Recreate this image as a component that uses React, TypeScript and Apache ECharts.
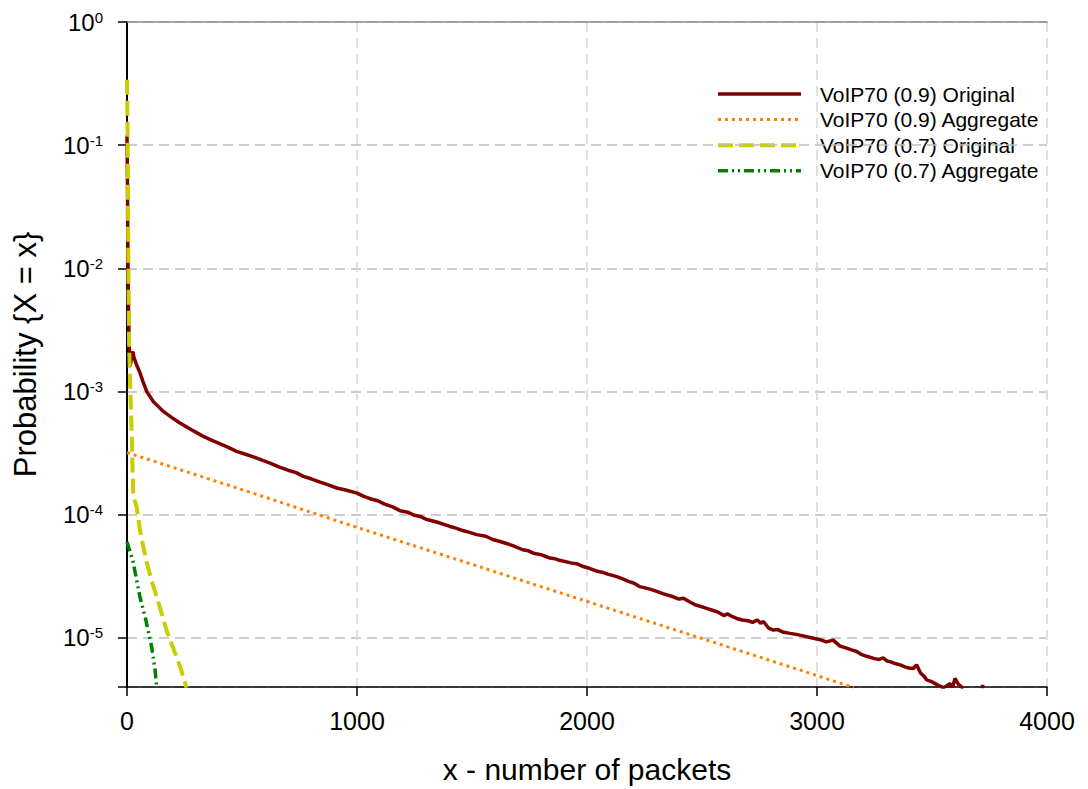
import React, { useEffect, useRef } from "react";
import * as echarts from "echarts";

const FONT = '"Liberation Sans", Arial, sans-serif';

const xTicks = [0, 1000, 2000, 3000, 4000];
const seriesNames = [
  "VoIP70 (0.9) Original",
  "VoIP70 (0.9) Aggregate",
  "VoIP70 (0.7) Original",
  "VoIP70 (0.7) Aggregate",
];

// [packets, probability]
const original09: [number, number | null][] = [
  [0, 0.12], [2, 0.05], [4, 0.012], [7, 4e-3], [10, 2.2e-3], [13, 1.6e-3],
  [17, 1.75e-3], [22, 2.05e-3], [26, 2.1e-3], [30, 1.9e-3], [40, 1.68e-3],
  [56, 1.43e-3], [70, 1.2e-3], [86, 1.0e-3], [114, 8.3e-4], [158, 6.9e-4],
  [195, 6.15e-4], [230, 5.56e-4], [280, 4.9e-4], [332, 4.33e-4], [365, 4.05e-4],
  [400, 3.8e-4], [440, 3.52e-4], [477, 3.27e-4], [515, 3.1e-4], [550, 2.95e-4],
  [590, 2.76e-4], [622, 2.63e-4], [660, 2.45e-4], [700, 2.3e-4], [735, 2.2e-4],
  [767, 2.05e-4], [800, 1.96e-4], [840, 1.84e-4], [875, 1.75e-4], [912, 1.65e-4],
  [955, 1.58e-4], [1000, 1.5e-4], [1030, 1.41e-4], [1057, 1.35e-4], [1090, 1.3e-4],
  [1120, 1.22e-4], [1155, 1.16e-4], [1187, 1.08e-4], [1220, 1.05e-4], [1250, 9.9e-5],
  [1275, 9.7e-5], [1300, 9.2e-5], [1350, 8.7e-5], [1404, 8.04e-5], [1430, 7.8e-5],
  [1460, 7.45e-5], [1490, 7.2e-5], [1520, 6.9e-5], [1560, 6.7e-5], [1590, 6.3e-5],
  [1622, 6.07e-5], [1650, 5.85e-5], [1680, 5.6e-5], [1720, 5.2e-5], [1745, 5.1e-5],
  [1767, 4.88e-5], [1800, 4.75e-5], [1839, 4.45e-5], [1860, 4.4e-5], [1880, 4.27e-5],
  [1930, 4.07e-5], [1960, 3.98e-5], [1984, 3.8e-5], [2010, 3.68e-5], [2040, 3.5e-5],
  [2065, 3.42e-5], [2090, 3.3e-5], [2129, 3.15e-5], [2155, 3.02e-5], [2180, 2.88e-5],
  [2205, 2.78e-5], [2230, 2.61e-5], [2274, 2.49e-5], [2300, 2.4e-5], [2330, 2.29e-5],
  [2375, 2.16e-5], [2400, 2.07e-5], [2420, 2.1e-5], [2445, 1.97e-5], [2470, 1.86e-5],
  [2495, 1.8e-5], [2520, 1.74e-5], [2545, 1.68e-5], [2570, 1.62e-5], [2595, 1.52e-5],
  [2610, 1.57e-5], [2630, 1.5e-5], [2651, 1.44e-5], [2675, 1.4e-5], [2700, 1.38e-5],
  [2720, 1.34e-5], [2740, 1.4e-5], [2755, 1.32e-5], [2767, 1.36e-5], [2790, 1.2e-5],
  [2810, 1.16e-5], [2830, 1.17e-5], [2850, 1.12e-5], [2883, 1.09e-5], [2910, 1.07e-5],
  [2940, 1.04e-5], [2970, 1.01e-5], [2999, 9.8e-6], [3020, 9.6e-6], [3040, 9.3e-6],
  [3070, 9.6e-6], [3100, 8.6e-6], [3125, 8.3e-6], [3150, 8.0e-6], [3170, 7.8e-6],
  [3190, 7.4e-6], [3216, 7.1e-6], [3250, 6.8e-6], [3270, 6.7e-6], [3288, 6.9e-6],
  [3305, 6.5e-6], [3320, 6.4e-6], [3340, 6.2e-6], [3361, 6.05e-6], [3385, 5.8e-6],
  [3400, 5.7e-6], [3419, 5.65e-6], [3433, 6.05e-6], [3450, 5.2e-6], [3465, 4.9e-6],
  [3477, 4.57e-6], [3495, 4.45e-6], [3510, 4.3e-6], [3530, 4.1e-6], [3549, 3.95e-6],
  [3565, 4.1e-6], [3578, 4.25e-6], [3590, 4.0e-6], [3600, 4.7e-6], [3615, 4.2e-6],
  [3636, 3.9e-6], [3680, null], [3712, 4.03e-6], [3728, 4.03e-6],
];

const aggregate09: [number, number][] = [
  [0, 3.2e-4], [500, 1.6e-4], [1000, 7.9e-5], [1500, 3.96e-5], [2000, 1.98e-5],
  [2500, 9.9e-6], [3000, 4.95e-6], [3160, 3.95e-6],
];

const original07: [number, number][] = [
  [0, 0.34], [3, 0.1], [6, 0.01], [9, 2.5e-3], [13, 1.26e-3], [20, 4.9e-4],
  [24, 2.4e-4], [27, 1.5e-4], [34, 1.3e-4], [42, 1.16e-4], [56, 7.6e-5],
  [70, 5.6e-5], [86, 4.1e-5], [105, 3.0e-5], [129, 2.16e-5], [150, 1.6e-5],
  [172, 1.15e-5], [195, 8.8e-6], [216, 7.0e-6], [238, 5.3e-6], [259, 3.95e-6],
];

const aggregate07: [number, number][] = [
  [0, 6.05e-5], [27, 4.1e-5], [56, 2.16e-5], [80, 1.45e-5], [107, 8.5e-6],
  [122, 5.5e-6], [129, 3.95e-6],
];

const colors = ["#800000", "#ff8000", "#cccc00", "#008000"];
const widths = [3.5, 3, 4, 3.5];
const dashes: (number[] | null)[] = [null, [3, 4], [15, 6], [10, 4, 2, 4, 2, 4]];
const layers = [4, 3, 6, 5];
const seriesData = [original09, aggregate09, original07, aggregate07];

export default function App() {
  const ref = useRef<HTMLDivElement>(null);

  useEffect(() => {
    if (!ref.current) return;
    const chart = echarts.init(ref.current, undefined, { renderer: "svg" });

    const yFormatter = (v: number) => {
      const e = Math.log10(v);
      const r = Math.round(e);
      if (Math.abs(e - r) > 1e-6) return "";
      return `{b|10}{s|${r}}`;
    };

    // Legend drawn as plain graphics: sample line + label per series
    const legendLeft = 718;
    const legendTop = 94;
    const legendRow = 25.6;
    const legendGraphics: any[] = [];
    seriesNames.forEach((name, i) => {
      const y = legendTop + i * legendRow;
      legendGraphics.push({
        type: "line",
        shape: { x1: legendLeft, y1: y, x2: legendLeft + 83, y2: y },
        style: {
          stroke: colors[i],
          lineWidth: widths[i],
          lineDash: dashes[i] || undefined,
        },
      });
      legendGraphics.push({
        type: "text",
        x: legendLeft + 102,
        y,
        style: {
          text: name,
          fontFamily: FONT,
          fontSize: 21,
          fill: "#000",
          verticalAlign: "middle",
          align: "left",
        },
      });
    });

    chart.setOption({
      animation: false,
      backgroundColor: "#ffffff",
      grid: { left: 127, right: 41, top: 22, bottom: 102, containLabel: false },
      graphic: legendGraphics,
      xAxis: [
        {
          type: "value",
          min: xTicks[0],
          max: xTicks[xTicks.length - 1],
          interval: 1000,
          name: "x - number of packets",
          nameLocation: "middle",
          nameGap: 67,
          nameTextStyle: { fontFamily: FONT, fontSize: 30, color: "#000" },
          axisLine: { show: true, onZero: false, lineStyle: { color: "#000", width: 1.5 } },
          axisTick: { show: true, inside: false, length: 9, lineStyle: { color: "#000", width: 1.5 } },
          axisLabel: {
            fontFamily: FONT,
            fontSize: 25,
            color: "#000",
            margin: 21,
            formatter: (v: number) => String(v),
          },
          splitLine: {
            show: true,
            lineStyle: { color: "#d6d6d6", width: 1.5, type: [10, 6] },
          },
        },
        {
          type: "value",
          position: "top",
          min: xTicks[0],
          max: xTicks[xTicks.length - 1],
          interval: 1000,
          axisLine: { show: true, lineStyle: { color: "#8c8c8c", width: 1.5 } },
          axisTick: { show: false },
          axisLabel: { show: false },
          splitLine: { show: false },
        },
      ],
      yAxis: [
        {
          type: "log",
          logBase: 10,
          min: 4e-6,
          max: 1,
          name: "Probability {X = x}",
          nameLocation: "middle",
          nameGap: 86,
          nameTextStyle: { fontFamily: FONT, fontSize: 31, color: "#000" },
          axisLine: { show: true, onZero: false, lineStyle: { color: "#000", width: 1.5 } },
          axisTick: { show: true, inside: false, length: 9, lineStyle: { color: "#000", width: 1.5 } },
          axisLabel: {
            margin: 24,
            formatter: yFormatter,
            rich: {
              b: { fontFamily: FONT, fontSize: 24, color: "#000" },
              s: {
                fontFamily: FONT,
                fontSize: 15,
                color: "#000",
                verticalAlign: "top",
                padding: [0, 0, 10, 0],
              },
            },
          },
          splitLine: {
            show: true,
            lineStyle: { color: "#bdbdbd", width: 1.5, type: [10, 6] },
          },
        },
        {
          type: "log",
          logBase: 10,
          position: "right",
          min: 4e-6,
          max: 1,
          axisLine: { show: true, lineStyle: { color: "#000", width: 2 } },
          axisTick: { show: false },
          axisLabel: { show: false },
          splitLine: { show: false },
        },
      ],
      series: seriesNames.map((name, i) => ({
        name,
        type: "line",
        data: seriesData[i],
        symbol: "none",
        connectNulls: false,
        clip: true,
        lineStyle: {
          color: colors[i],
          width: widths[i],
          type: dashes[i] || "solid",
        },
        itemStyle: { color: colors[i] },
        z: layers[i],
      })),
    });

    return () => chart.dispose();
  }, []);

  return (
    <div
      ref={ref}
      style={{ position: "absolute", left: 0, top: 0, width: 1088, height: 789 }}
    />
  );
}
